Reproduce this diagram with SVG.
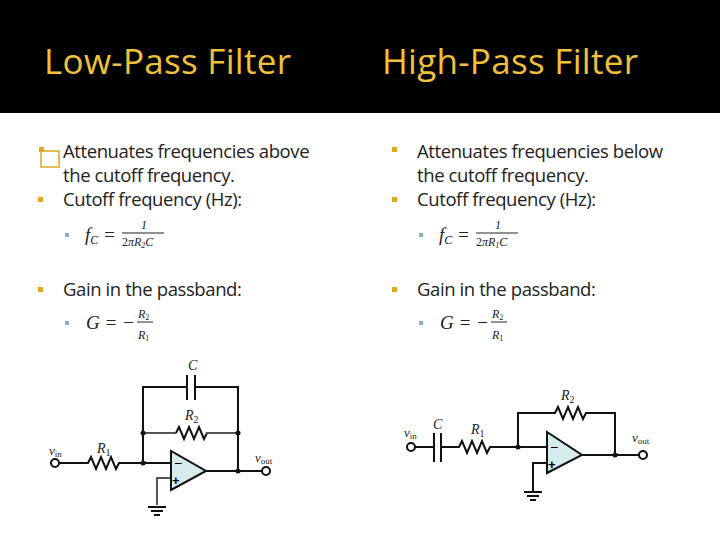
<svg xmlns="http://www.w3.org/2000/svg" width="720" height="540" viewBox="0 0 720 540">
<style>
.t{font-family:"Open Sans","Liberation Sans",sans-serif;font-size:18.5px;fill:#222;letter-spacing:-0.4px}
.h{font-family:"Open Sans","Liberation Sans",sans-serif;font-size:35px;fill:#f0c13a;letter-spacing:0.3px}
.m{font-family:"Liberation Serif",serif;font-style:italic;fill:#222}
.w{stroke:#111;stroke-width:2;fill:none}
.g{stroke:#555;stroke-width:2;fill:none}
.b{fill:#e0a820}
.s{fill:#7fb3c8}
.oa{fill:#d6ecec;stroke:#111;stroke-width:2}
.dot{fill:#111}
</style>
<rect width="720" height="540" fill="#fff"/>
<rect width="720" height="113" fill="#000"/>
<text class="h" x="44" y="74">Low-Pass Filter</text>
<text class="h" x="382" y="74">High-Pass Filter</text>
<g id="left-text">
<rect x="39" y="147" width="5" height="5" class="b"/>
<rect x="41" y="151" width="18" height="16" fill="none" stroke="#e0a820" stroke-width="1.5"/>
<text class="t" x="63" y="158">Attenuates frequencies above</text>
<text class="t" x="63" y="182">the cutoff frequency.</text>
<rect x="38" y="197" width="5" height="5" class="b"/>
<text class="t" x="63" y="206">Cutoff frequency (Hz):</text>
<rect x="65" y="233" width="4" height="4" class="s"/>
<text class="m" x="85" y="241" font-size="19">f<tspan font-size="12" dy="3">C</tspan><tspan dy="-3"> = </tspan></text>
<text class="m" x="141" y="229" font-size="12" font-style="normal">1</text>
<line x1="122" y1="233" x2="164" y2="233" stroke="#222"/>
<text class="m" x="122" y="246" font-size="12"><tspan font-style="normal">2</tspan>πR<tspan font-size="8" dy="2">2</tspan><tspan dy="-2">C</tspan></text>
<rect x="38" y="287" width="5" height="5" class="b"/>
<text class="t" x="63" y="296">Gain in the passband:</text>
<rect x="65" y="321" width="4" height="4" class="s"/>
<text class="m" x="86" y="329" font-size="19">G = −</text>
<text class="m" x="138" y="318" font-size="12">R<tspan font-size="8" dy="2" font-style="normal">2</tspan></text>
<line x1="137" y1="322" x2="153" y2="322" stroke="#222"/>
<text class="m" x="138" y="339" font-size="12">R<tspan font-size="8" dy="2" font-style="normal">1</tspan></text>
</g>
<g id="right-text">
<rect x="392" y="147" width="5" height="5" class="b"/>
<text class="t" x="417" y="158">Attenuates frequencies below</text>
<text class="t" x="417" y="182">the cutoff frequency.</text>
<rect x="392" y="197" width="5" height="5" class="b"/>
<text class="t" x="417" y="206">Cutoff frequency (Hz):</text>
<rect x="419" y="233" width="4" height="4" class="s"/>
<text class="m" x="439" y="241" font-size="19">f<tspan font-size="12" dy="3">C</tspan><tspan dy="-3"> = </tspan></text>
<text class="m" x="495" y="229" font-size="12" font-style="normal">1</text>
<line x1="476" y1="233" x2="518" y2="233" stroke="#222"/>
<text class="m" x="476" y="246" font-size="12"><tspan font-style="normal">2</tspan>πR<tspan font-size="8" dy="2">1</tspan><tspan dy="-2">C</tspan></text>
<rect x="392" y="287" width="5" height="5" class="b"/>
<text class="t" x="417" y="296">Gain in the passband:</text>
<rect x="419" y="321" width="4" height="4" class="s"/>
<text class="m" x="440" y="329" font-size="19">G = −</text>
<text class="m" x="492" y="318" font-size="12">R<tspan font-size="8" dy="2" font-style="normal">2</tspan></text>
<line x1="491" y1="322" x2="507" y2="322" stroke="#222"/>
<text class="m" x="492" y="339" font-size="12">R<tspan font-size="8" dy="2" font-style="normal">1</tspan></text>
</g>
<g id="lowpass-circuit">
<path class="w" d="M59 463H88l3-6 5 12 5-12 5 12 5-12 5 12 3-6H171"/>
<path class="w" d="M143 463V387H187M195 387H238V471"/>
<path class="w" d="M187 375V400M195 375V400"/>
<path class="g" d="M143 433H176"/><path class="w" d="M176 433l3-6 5 12 5-12 5 12 5-12 5 12 3-6"/><path class="g" d="M206 433H238"/>
<path class="g" d="M171 478H157V505"/>
<path class="w" d="M148 507H166M151 511H163M154 515H160"/>
<polygon class="oa" points="171,451 171,490 206,471"/>
<path class="w" d="M206 471H262"/>
<text x="174" y="468" font-size="14" font-family="Liberation Sans,sans-serif">−</text>
<text x="172" y="485" font-size="13" font-family="Liberation Sans,sans-serif" font-weight="bold">+</text>
<circle cx="55" cy="463" r="4" fill="#fff" stroke="#111" stroke-width="2"/>
<circle cx="266" cy="471" r="4" fill="#fff" stroke="#111" stroke-width="2"/>
<circle cx="143" cy="463" r="2.5" class="dot"/><circle cx="143" cy="433" r="2.5" class="dot"/><circle cx="238" cy="433" r="2.5" class="dot"/><circle cx="238" cy="471" r="2.5" class="dot"/>
<text class="m" x="188" y="370" font-size="14">C</text>
<text class="m" x="185" y="420" font-size="14">R<tspan font-size="10" dy="3" font-style="normal">2</tspan></text>
<text class="m" x="97" y="453" font-size="14">R<tspan font-size="10" dy="3" font-style="normal">1</tspan></text>
<text class="m" x="49" y="455" font-size="13">v<tspan font-size="9" dy="2" font-style="normal">in</tspan></text>
<text class="m" x="255" y="462" font-size="13">v<tspan font-size="9" dy="2" font-style="normal">out</tspan></text>
</g>
<g id="highpass-circuit">
<path class="w" d="M415 447H434M441 447H459l3-6 5 12 5-12 5 12 5-12 5 12 3-6H547"/>
<path class="w" d="M434 433V462M441 433V462"/>
<path class="w" d="M518 447V413H555l3-6 5 12 5-12 5 12 5-12 5 12 3-6H615V455"/>
<path class="w" d="M547 463H533V491"/>
<path class="w" d="M524 492H542M527 496H539M530 500H536"/>
<polygon class="oa" points="547,432 547,473 582,455"/>
<path class="w" d="M582 455H639"/>
<text x="550" y="452" font-size="14" font-family="Liberation Sans,sans-serif">−</text>
<text x="548" y="469" font-size="13" font-family="Liberation Sans,sans-serif" font-weight="bold">+</text>
<circle cx="411" cy="447" r="4" fill="#fff" stroke="#111" stroke-width="2"/>
<circle cx="643" cy="455" r="4" fill="#fff" stroke="#111" stroke-width="2"/>
<circle cx="518" cy="447" r="2.5" class="dot"/><circle cx="615" cy="455" r="2.5" class="dot"/>
<text class="m" x="433" y="429" font-size="14">C</text>
<text class="m" x="471" y="434" font-size="14">R<tspan font-size="10" dy="3" font-style="normal">1</tspan></text>
<text class="m" x="561" y="400" font-size="14">R<tspan font-size="10" dy="3" font-style="normal">2</tspan></text>
<text class="m" x="404" y="437" font-size="13">v<tspan font-size="9" dy="2" font-style="normal">in</tspan></text>
<text class="m" x="632" y="442" font-size="13">v<tspan font-size="9" dy="2" font-style="normal">out</tspan></text>
</g>
</svg>
